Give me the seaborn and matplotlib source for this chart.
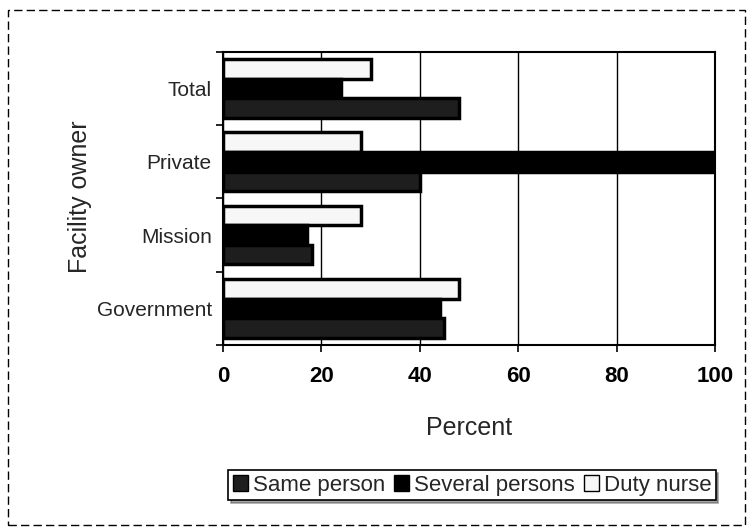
import matplotlib
matplotlib.use("Agg")
import matplotlib.pyplot as plt
import matplotlib.patches as mpatches
import pandas as pd
import seaborn as sns

# ---------------------------------------------------------------------------
# Données
# ---------------------------------------------------------------------------
owners = ["Total", "Private", "Mission", "Government"]
series = ["Same person", "Several persons", "Duty nurse"]
same_person = [48, 40, 18, 45]
several_persons = [24, 100, 17, 44]
duty_nurse = [30, 28, 28, 48]
x_ticks = [0, 20, 40, 60, 80, 100]

sns.set_theme(style="white")
plt.rcParams["font.family"] = ["Liberation Sans", "DejaVu Sans"]

df = pd.DataFrame({
    "owner": owners * 3,
    "series": [s for s in series for _ in owners],
    "percent": same_person + several_persons + duty_nurse,
})

colors = {
    "Same person": "#1e1e1e",
    "Several persons": "#000000",
    "Duty nurse": "#f7f7f7",
}

fig = plt.figure(figsize=(7.53, 5.32), dpi=100)
ax = fig.add_axes([0.296, 0.3515, 0.654, 0.551])

# duty nurse en haut de chaque groupe -> ordre inversé des teintes
sns.barplot(
    data=df, x="percent", y="owner", hue="series",
    order=owners, hue_order=series[::-1], palette=colors,
    orient="h", width=0.8, edgecolor="black", linewidth=2.5,
    ax=ax, legend=False,
)

ax.set_xlim(0, 100)
ax.set_ylim(3.5, -0.5)
ax.set_xticks(x_ticks)
ax.xaxis.grid(True, color="black", linewidth=1)
ax.set_axisbelow(True)
for sp in ax.spines.values():
    sp.set_color("black")
    sp.set_linewidth(1.5)

ax.tick_params(axis="x", labelsize=16, pad=10, length=5, width=1.2,
               direction="out", colors="black", bottom=True)
for lbl in ax.get_xticklabels():
    lbl.set_fontweight("bold")
ax.tick_params(axis="y", which="major", labelsize=15, length=0, pad=8)
ax.set_yticks([-0.5, 0.5, 1.5, 2.5, 3.5], minor=True)
ax.tick_params(axis="y", which="minor", length=5, width=1.2,
               direction="out", colors="black", left=True)
ax.set_xlabel("")
ax.set_ylabel("")

fig.text(469 / 753, 1 - 428 / 532, "Percent", ha="center", va="center",
         fontsize=18)
fig.text(80 / 753, 1 - 197 / 532, "Facility owner", ha="center",
         va="center", rotation=90, fontsize=18)

handles = [mpatches.Patch(facecolor=colors[s], edgecolor="black") for s in series]
leg = fig.legend(
    handles, series, loc="center", bbox_to_anchor=(472 / 753, 1 - 485 / 532),
    ncol=3, fontsize=16, frameon=True, fancybox=False, shadow=True,
    handlelength=0.7, handleheight=0.7, handletextpad=0.2,
    columnspacing=0.4, borderpad=0.2,
)
leg.get_frame().set_edgecolor("black")
leg.get_frame().set_linewidth(1.2)

fig.add_artist(mpatches.Rectangle(
    (8 / 753, 7 / 532), 737 / 753, 515 / 532, transform=fig.transFigure,
    fill=False, linestyle=(0, (6, 3)), linewidth=1, edgecolor="black",
))

fig.savefig("out.png", dpi=100)
